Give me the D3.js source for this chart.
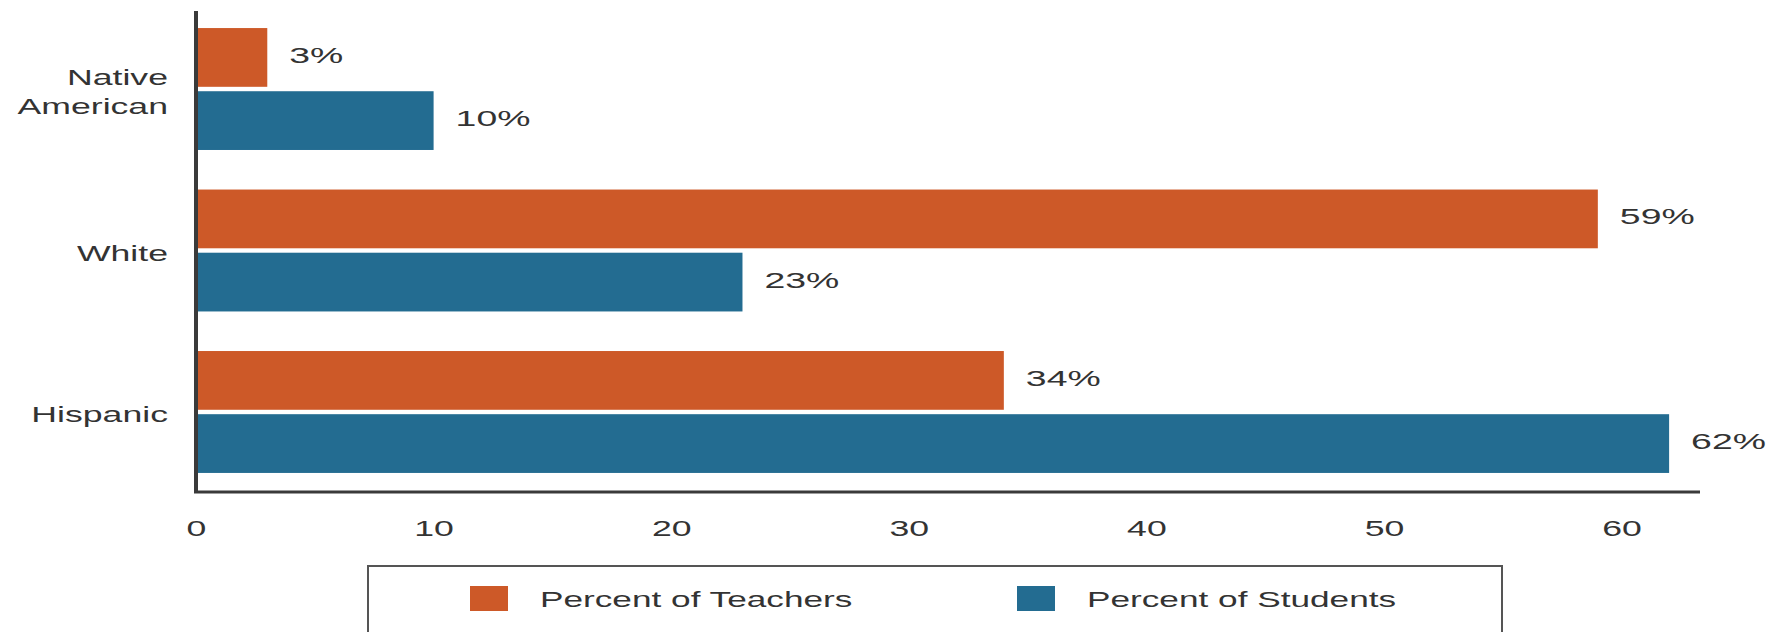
<!DOCTYPE html>
<html>
<head>
<meta charset="utf-8">
<script src="https://cdn.jsdelivr.net/npm/d3@7"></script>
<style>
  body { margin: 0; background: #fff; }
  svg text { font-family: "Liberation Sans", Arial, sans-serif; fill: #333; }
</style>
</head>
<body>
<div id="chart"></div>
<script>
// DATA
////////////////////////////
var categories = ["Native American", "White", "Hispanic"];
var series = ["Percent of Teachers", "Percent of Students"];
var teachers = [3, 59, 34];
var students = [10, 23, 62];
var xTicks = [0, 10, 20, 30, 40, 50, 60];
var colors = ["#cd5928", "#236c91"];

// SETUP
////////////////////////////
var width = 1774,
    height = 632;

// the original picture is stretched sideways, so text is too
var sx = 1.62;

var svg = d3.select("#chart").append("svg")
    .attr("width", width)
    .attr("height", height);

var x = d3.scaleLinear()
    .domain([0, 63.3])
    .range([196, 1700]);

var y = d3.scaleBand()
    .domain(categories)
    .range([9, 492])
    .paddingInner(0.245)
    .paddingOuter(0.118);

var ySub = d3.scaleBand()
    .domain(series)
    .range([0, y.bandwidth()])
    .paddingInner(0.07);

var rows = categories.map(function(c, i) {
  return { cat: c, values: [teachers[i], students[i]] };
});

// BARS
////////////////////////////
var group = svg.selectAll("g.cat")
  .data(rows)
  .enter().append("g")
    .attr("class", "cat")
    .attr("transform", function(d) { return "translate(0," + y(d.cat) + ")"; });

group.selectAll("rect")
  .data(function(d) { return d.values.map(function(v, j) { return { s: series[j], v: v, j: j }; }); })
  .enter().append("rect")
    .attr("x", x(0))
    .attr("y", function(d) { return ySub(d.s); })
    .attr("width", function(d) { return x(d.v) - x(0); })
    .attr("height", ySub.bandwidth())
    .attr("fill", function(d) { return colors[d.j]; });

// value labels
group.selectAll("text.val")
  .data(function(d) { return d.values.map(function(v, j) { return { s: series[j], v: v }; }); })
  .enter().append("text")
    .attr("class", "val")
    .attr("transform", function(d) {
      return "translate(" + (x(d.v) + 22) + "," + (ySub(d.s) + ySub.bandwidth() / 2 - 2) + ") scale(1.7,1)";
    })
    .attr("dominant-baseline", "central")
    .style("font-size", "22px")
    .text(function(d) { return d.v + "%"; });

// category labels (Native American on 2 lines)
svg.selectAll("text.cat")
  .data(categories)
  .enter().append("text")
    .attr("class", "cat")
    .attr("text-anchor", "end")
    .style("font-size", "22px")
    .attr("transform", function(d) {
      return "translate(168," + (y(d) + y.bandwidth() / 2 + 3) + ") scale(" + sx + ",1)";
    })
    .each(function(d) {
      var words = d.split(" ");
      var t = d3.select(this);
      words.forEach(function(w, k) {
        t.append("tspan")
          .attr("x", 0)
          .attr("dy", k === 0 ? ((-(words.length - 1) * 29 / 2) + 7.5) + "px" : "29px")
          .text(w);
      });
    });

// AXES
////////////////////////////
var xAxis = d3.axisBottom(x)
    .tickValues(xTicks)
    .tickSize(0)
    .tickPadding(28);

var gx = svg.append("g")
    .attr("transform", "translate(0,492)")
    .call(xAxis);
gx.select(".domain").remove();
gx.selectAll("text")
    .attr("transform", "scale(" + sx + ",1)")
    .style("font-size", "22px")
    .style("font-family", "'Liberation Sans', Arial, sans-serif")
    .attr("fill", "#333");

// axis lines
svg.append("line")
    .attr("x1", x(0)).attr("x2", x(0))
    .attr("y1", 11).attr("y2", 493)
    .attr("stroke", "#3a3a3a")
    .attr("stroke-width", 4);
svg.append("line")
    .attr("x1", x(0) - 2).attr("x2", 1700)
    .attr("y1", 492).attr("y2", 492)
    .attr("stroke", "#3a3a3a")
    .attr("stroke-width", 3);

// LEGEND
////////////////////////////
svg.append("rect")
    .attr("x", 368).attr("y", 566)
    .attr("width", 1134).attr("height", 120)
    .attr("fill", "none")
    .attr("stroke", "#555")
    .attr("stroke-width", 2);

var leg = svg.selectAll("g.leg")
  .data(series)
  .enter().append("g")
    .attr("class", "leg")
    .attr("transform", function(d, i) { return "translate(" + (470 + i * 547) + ",586)"; });

leg.append("rect")
    .attr("width", 38)
    .attr("height", 25)
    .attr("fill", function(d, i) { return colors[i]; });

leg.append("text")
    .attr("transform", "translate(70,13) scale(1.6,1)")
    .attr("dominant-baseline", "central")
    .style("font-size", "22px")
    .text(function(d) { return d; });
</script>
</body>
</html>
